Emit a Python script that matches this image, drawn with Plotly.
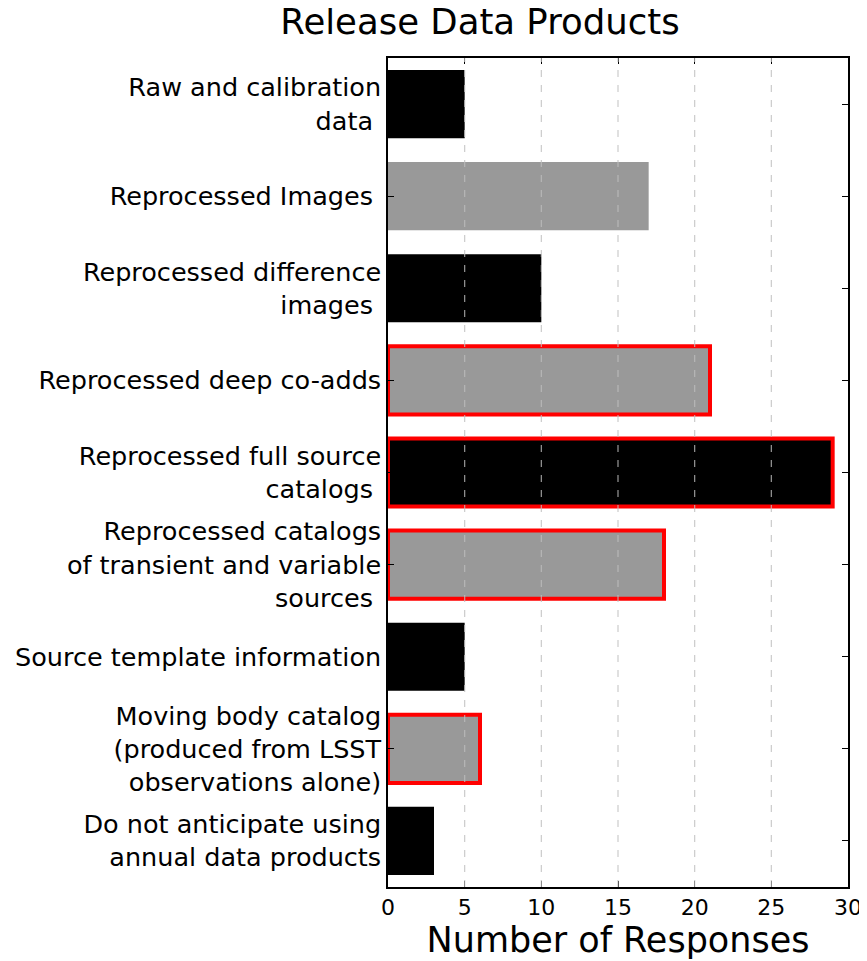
import plotly.graph_objects as go

labels = [
    "Raw and calibration<br>data\u00a0",
    "Reprocessed Images\u00a0",
    "Reprocessed difference<br>images\u00a0",
    "Reprocessed deep co-adds",
    "Reprocessed full source<br>catalogs\u00a0",
    "Reprocessed catalogs<br>of transient and variable<br>sources\u00a0",
    "Source template information",
    "Moving body catalog<br>(produced from LSST<br>observations alone)",
    "Do not anticipate using<br>annual data products",
]
responses = [5, 17, 10, 21, 29, 18, 5, 6, 3]
highlighted = [False, False, False, True, True, True, False, True, False]
x_ticks = [0, 5, 10, 15, 20, 25, 30]

positions = list(range(len(labels)))
fill = ["black" if i % 2 == 0 else "#999999" for i in positions]
edge = ["red" if h else c for h, c in zip(highlighted, fill)]
edge_w = [4 if h else 0 for h in highlighted]

font = "DejaVu Sans, sans-serif"

fig = go.Figure(go.Bar(
    x=responses,
    y=positions,
    orientation="h",
    width=0.74,
    marker=dict(color=fill, line=dict(color=edge, width=edge_w)),
))

# dashed grid lines drawn over the bars, like the original
for t in x_ticks[1:-1]:
    fig.add_vline(x=t, line=dict(color="rgba(190,190,190,0.8)", width=1.2, dash="7px,8px"),
                  layer="above")

# page body adds an 8px margin, so the figure is 8px smaller than the window
fig.update_layout(
    template="none",
    width=859, height=953,
    margin=dict(l=380, r=19, t=50, b=74),
    plot_bgcolor="white",
    paper_bgcolor="white",
    font=dict(family=font, size=22, color="black"),
    showlegend=False,
    title=dict(text="Release Data Products", x=0.2, xref="paper", xanchor="center",
               y=0.999, yref="container", yanchor="top",
               font=dict(size=35.5, family=font)),
)

fig.update_xaxes(
    range=[0, 30], tickvals=x_ticks, showgrid=False, zeroline=False,
    showline=True, linecolor="black", linewidth=1.5, mirror="allticks",
    ticks="inside", ticklen=6, tickcolor="black", tickwidth=1,
    tickfont=dict(size=22),
    title=dict(text="Number of Responses", font=dict(size=35), standoff=6),
    automargin=False,
    layer="above traces",
)
fig.update_yaxes(
    range=[len(labels) - 0.5, -0.5], tickvals=positions, ticktext=labels,
    showgrid=False, zeroline=False,
    showline=True, linecolor="black", linewidth=1.5, mirror="allticks",
    ticks="inside", ticklen=6, tickcolor="black", tickwidth=1,
    tickfont=dict(size=25.5),
    automargin=False,
    layer="above traces",
)

fig.write_html("out.html")
